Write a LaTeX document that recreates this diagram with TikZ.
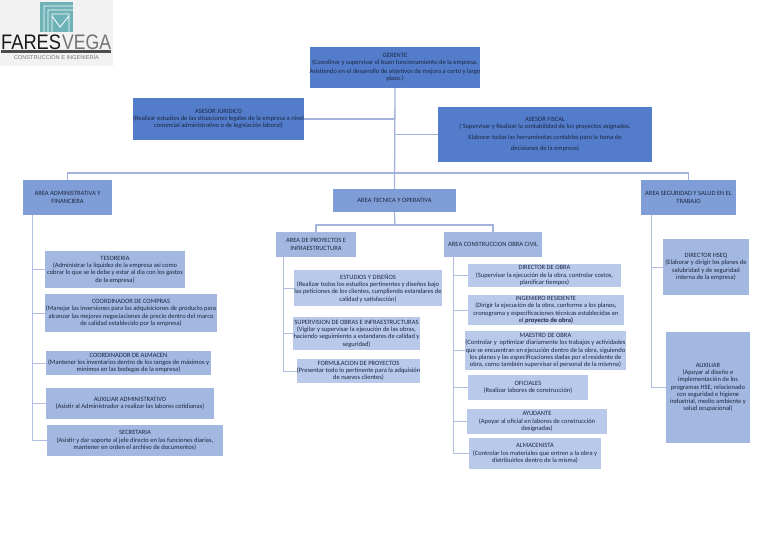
\documentclass[tikz,border=0pt]{standalone}
\usepackage{fontspec}
\setmainfont{Carlito}
\newfontfamily\logofont{Liberation Sans}
\definecolor{cdark}{HTML}{537DCB}
\definecolor{cmid}{HTML}{7F9DD6}
\definecolor{clight}{HTML}{A3B8E0}
\definecolor{cpale}{HTML}{B9C9EA}
\definecolor{ctext}{HTML}{1C2742}
\definecolor{cline}{HTML}{A3B3DC}
\definecolor{teal1}{HTML}{6FB3B8}
\tikzset{
 box/.style={draw=none,inner sep=0pt,align=center,text=ctext,font=\fontsize{6.5}{7.3}\selectfont},
 dark/.style={box,fill=cdark},
 mid/.style={box,fill=cmid},
 light/.style={box,fill=clight},
 pale/.style={box,fill=cpale},
 link/.style={draw=cline,line width=1.3pt},
 thin link/.style={draw=cline!85,line width=1pt},
}
% name, x1, y1, x2, y2, style, text
\newcommand{\bx}[7]{\node[#6,minimum width=#4pt-#2pt,minimum height=#5pt-#3pt] (#1) at ({(#2+#4)/2},{(#3+#5)/2}) {#7};}
\begin{document}
\begin{tikzpicture}[x=1pt,y=-1pt]
\useasboundingbox (0,0) rectangle (768,543);
\fill[white] (0,0) rectangle (768,543);
% logo
\fill[black!5] (0,0) rectangle (113,66);
\fill[teal1] (40,2) rectangle (73,32);
\draw[white,line width=0.8pt] (44,32) -- (44,6) -- (73,6) (48,32) -- (48,10) -- (73,10) (52,32) -- (52,14) -- (69,14) -- (69,32) (52,16) -- (60,27) -- (69,16);
\node[inner sep=0pt,anchor=west,text=black!90] (logoa) at (1,42.5) {\logofont\fontsize{21}{21}\selectfont\scalebox{0.87}[1]{FARES}};
\node[inner sep=0pt,anchor=west,text=black!55] (logob) at (62,42.5) {\logofont\fontsize{21}{21}\selectfont\scalebox{0.84}[1]{VEGA}};
\fill[black!70] (1,50.5) rectangle (111,53);
\node[inner sep=0pt,text=black!55] (logoc) at (56.5,57.5) {\logofont\fontsize{5.6}{6}\selectfont CONSTRUCCIÓN E INGENIERÍA};
% boxes
\bx{gerente}{310}{47}{480}{88}{dark}{GERENTE\\(Coordinar y supervisar el buen funcionamiento de la empresa.\\[1.5pt]Asistiendo en el desarrollo de objetivos de mejora a corto y largo\\plazo.)}
\bx{juridico}{133}{98}{304}{140}{dark}{ASESOR JURIDICO\\(Realizar estudios de las situaciones legales de la empresa a nivel\\comercial administrativo o de legislación laboral)}
\bx{fiscal}{438}{107}{652}{162}{dark}{ASESOR FISCAL\\( Supervisar y Realizar la contabilidad de los proyectos asignados.\\[3pt]Elaborar todas las herramientas contables para la toma de\\[4pt]decisiones de la empresa)}
\bx{admin}{23}{180}{112}{215}{mid}{AREA ADMINISTRATIVA Y\\FINANCIERA}
\bx{tecnica}{333}{189}{456}{212}{mid}{AREA TECNICA Y OPERATIVA}
\bx{seguridad}{641}{180}{736}{215}{mid}{AREA SEGURIDAD Y SALUD EN EL\\TRABAJO}
\bx{tesoreria}{45}{251}{185}{288}{light}{TESORERIA\\(Administrar la liquidez de la empresa asi como\\cobrar lo que se le debe y estar al dia con los gastos\\de la empresa)}
\bx{compras}{45}{294}{217}{332}{light}{COORDINADOR DE COMPRAS\\(Manejar las inversiones para las adquisiciones de producto para\\alcanzar las mejores negociaciones de precio dentro del marco\\de calidad establecido por la empresa)}
\bx{almacen}{46}{351}{211}{375}{light}{COORDINADOR DE ALMACEN\\(Mantener los inventarios dentro de los rangos de máximos y\\mínimos en las bodegas de la empresa)}
\bx{auxadmin}{46}{388}{214}{419}{light}{AUXILIAR ADMINISTRATIVO\\(Asistir al Administrador a realizar las labores cotidianas)}
\bx{secretaria}{47}{425}{223}{456}{light}{SECRETARIA\\(Asistir y dar soporte al jefe directo en las funciones diarias,\\mantener en orden el archivo de documentos)}
\bx{proyectos}{276}{232}{356}{257}{light}{AREA DE PROYECTOS E\\INFRAESTRUCTURA}
\bx{construccion}{444}{232}{542}{257}{light}{AREA CONSTRUCCION OBRA CIVIL}
\bx{estudios}{294}{270}{442}{306}{pale}{ESTUDIOS Y DISEÑOS\\(Realizar todos los estudios pertinentes y diseños bajo\\las peticiones de los clientes, cumpliendo estandares de\\calidad y satisfacción)}
\bx{supervision}{293}{317}{420}{350}{pale}{SUPERVISION DE OBRAS E INFRAESTRUCTURAS\\(Vigilar y supervisar la ejecución de las obras,\\haciendo seguimiento a estandares de calidad y\\seguridad)}
\bx{formulacion}{297}{359}{420}{383}{pale}{FORMULACION DE PROYECTOS\\(Presentar todo lo pertinente para la adquisión\\de nuevos clientes)}
\bx{director}{468}{264}{621}{287}{pale}{DIRECTOR DE OBRA\\(Supervisar la ejecución de la obra, controlar costos,\\planificar tiempos)}
\bx{ingeniero}{468}{295}{624}{325}{pale}{INGENIERO RESIDENTE\\(Dirigir la ejecución de la obra, conforme a los planos,\\cronograma y especificaciones técnicas establecidas en\\el \textbf{proyecto de obra)}}
\bx{maestro}{465}{331}{626}{370}{pale}{MAESTRO DE OBRA\\(Controlar y~ optimizar diariamente los trabajos y actividades\\que se encuentran en ejecución dentro de la obra, siguiendo\\los planos y las especificaciones dadas por el residente de\\obra, como también supervisar el personal de la mismna)}
\bx{oficiales}{468}{375}{588}{400}{pale}{OFICIALES\\(Realizar labores de construcción)}
\bx{ayudante}{467}{409}{607}{434}{pale}{AYUDANTE\\(Apoyar al oficial en labores de construcción\\designadas)}
\bx{almacenista}{469}{438}{601}{469}{pale}{ALMACENISTA\\(Controlar los materiales que entren a la obra y\\distribuirlos dentro de la misma)}
\bx{hseq}{663}{239}{749}{295}{light}{DIRECTOR HSEQ\\(Elaborar y dirigir los planes de\\salubridad y de seguridad\\interna de la empresa)}
\bx{auxiliar}{666}{332}{750}{443}{light}{AUXILIAR\\(Apoyar al diseño e\\implementación de los\\programas HSE, relacionado\\con seguridad e higiene\\industrial, medio ambiente y\\salud ocupacional)}
% free ends of the connectors
\coordinate (bus) at (395,173);
\coordinate (subbus) at (395,225);
\coordinate (admintrunk) at (32,215);
\coordinate (proytrunk) at (283,257);
\coordinate (construnk) at (453,257);
\coordinate (segtrunk) at (651,215);
% connectors
\draw[link] (gerente.south) -- (tecnica.north);
\draw[link] (juridico.east) -- (juridico.east -| gerente.south);
\draw[link] (fiscal.west) -- (fiscal.west -| gerente.south);
\draw[link] (admin.north) |- (bus) -| (seguridad.north);
\draw[link] (tecnica.south) -- (subbus);
\draw[link] (proyectos.north) |- (subbus) -| (construccion.north);
\foreach \n in {tesoreria,compras,almacen,auxadmin,secretaria} \draw[thin link] (admintrunk) |- (\n.west);
\foreach \n in {estudios,supervision,formulacion} \draw[thin link] (proytrunk) |- (\n.west);
\foreach \n in {director,ingeniero,maestro,oficiales,ayudante,almacenista} \draw[thin link] (construnk) |- (\n.west);
\foreach \n in {hseq,auxiliar} \draw[thin link] (segtrunk) |- (\n.west);
\end{tikzpicture}
\end{document}
